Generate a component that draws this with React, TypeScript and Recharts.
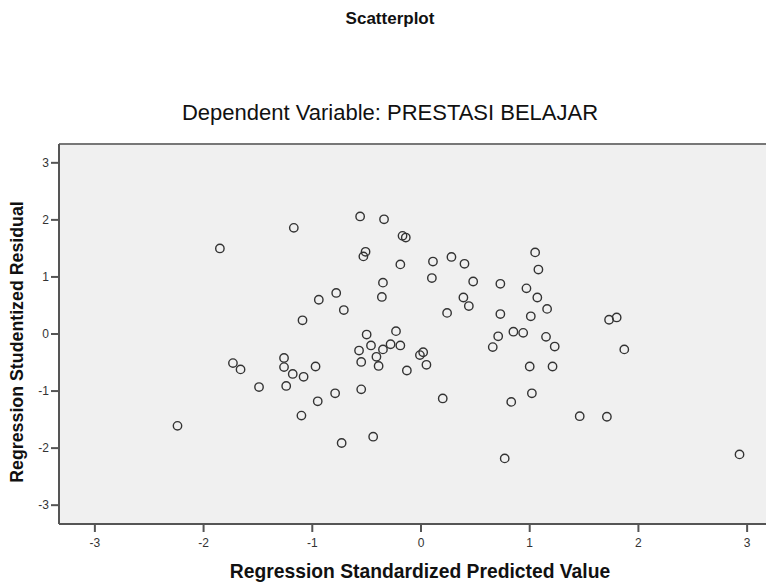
import React from 'react';
import { ScatterChart, Scatter, XAxis, YAxis, CartesianGrid, ReferenceLine } from 'recharts';

// standardized predicted value (x) and studentized residual (y)
const predicted = [
    -2.24, -1.85, -1.17, -1.73, -1.66, -1.49, -1.26, -1.26, -1.24, -1.18,
    -1.10, -1.08, -1.09, -0.97, -0.95, -0.94, -0.79, -0.78, -0.73, -0.71,
    -0.56, -0.57, -0.55, -0.55, -0.51, -0.53, -0.50, -0.46, -0.44, -0.41,
    -0.39, -0.36, -0.35, -0.35, -0.34, -0.28, -0.23, -0.19, -0.19, -0.17,
    -0.14, -0.13, -0.01, 0.02, 0.05, 0.10, 0.11, 0.20, 0.24, 0.28,
    0.39, 0.40, 0.44, 0.48, 0.66, 0.71, 0.73, 0.73, 0.77, 0.83,
    0.85, 0.94, 0.97, 1.00, 1.01, 1.02, 1.05, 1.07, 1.08, 1.15,
    1.16, 1.21, 1.23, 1.46, 1.71, 1.73, 1.80, 1.87, 2.93,
];
const residual = [
    -1.61, 1.50, 1.86, -0.51, -0.62, -0.93, -0.42, -0.58, -0.91, -0.70,
    -1.43, -0.75, 0.24, -0.57, -1.18, 0.60, -1.04, 0.72, -1.91, 0.42,
    2.06, -0.29, -0.49, -0.97, 1.44, 1.36, -0.01, -0.20, -1.80, -0.40,
    -0.56, 0.65, 0.90, -0.27, 2.01, -0.18, 0.05, -0.20, 1.22, 1.72,
    1.69, -0.64, -0.37, -0.32, -0.54, 0.98, 1.27, -1.13, 0.37, 1.35,
    0.64, 1.23, 0.49, 0.92, -0.23, -0.04, 0.35, 0.88, -2.18, -1.19,
    0.04, 0.02, 0.80, -0.57, 0.31, -1.04, 1.43, 0.64, 1.13, -0.05,
    0.44, -0.57, -0.22, -1.44, -1.45, 0.25, 0.29, -0.27, -2.11,
];
const ticks = [-3, -2, -1, 0, 1, 2, 3];
const LIM = 3.33;

const points = predicted.map((x, i) => ({ x, y: residual[i] }));

const FONT = '"Liberation Sans", Arial, sans-serif';

const Ring = (p: any) => (
    <circle cx={p.cx} cy={p.cy} r={4.2} fill="none" stroke="#333" strokeWidth={1.4} />
);

export default function App() {
    return (
        <div style={{ position: 'relative', width: 766, height: 580, overflow: 'hidden', fontFamily: FONT }}>
            <div style={{ position: 'absolute', left: 382, top: 1, transform: 'translateX(-50%)', fontWeight: 700, fontSize: 17, color: '#111', whiteSpace: 'nowrap' }}>
                Scatterplot
            </div>
            <div style={{ position: 'absolute', left: 382, top: 92, transform: 'translateX(-50%)', fontSize: 22, color: '#111', whiteSpace: 'nowrap' }}>
                Dependent Variable: PRESTASI BELAJAR
            </div>
            <ScatterChart width={790} height={575} margin={{ top: 136, right: 15, bottom: 0, left: 0 }}>
                <CartesianGrid horizontal={false} vertical={false} fill="#f0f0f0" />
                <ReferenceLine y={LIM} stroke="#777" strokeWidth={2} />
                <XAxis
                    type="number"
                    dataKey="x"
                    domain={[-LIM, LIM]}
                    ticks={ticks}
                    height={59}
                    tickSize={8}
                    tickMargin={6}
                    stroke="#555"
                    strokeWidth={2}
                    tick={{ fill: '#333', fontSize: 12, fontFamily: FONT }}
                    allowDataOverflow
                />
                <YAxis
                    type="number"
                    dataKey="y"
                    domain={[-LIM, LIM]}
                    ticks={ticks}
                    width={51}
                    tickSize={8}
                    tickMargin={2}
                    stroke="#555"
                    strokeWidth={2}
                    tick={{ fill: '#333', fontSize: 12, fontFamily: FONT }}
                    allowDataOverflow
                />
                <Scatter data={points} shape={Ring} isAnimationActive={false} />
                <text
                    x={15}
                    y={334}
                    transform="rotate(-90 15 334)"
                    textAnchor="middle"
                    fontFamily={FONT}
                    fontWeight={700}
                    fontSize={17.8}
                    fill="#111"
                >
                    Regression Studentized Residual
                </text>
            </ScatterChart>
            <div style={{ position: 'absolute', left: 412, top: 553, transform: 'translateX(-50%)', fontWeight: 700, fontSize: 19.3, color: '#111', whiteSpace: 'nowrap' }}>
                Regression Standardized Predicted Value
            </div>
        </div>
    );
}
